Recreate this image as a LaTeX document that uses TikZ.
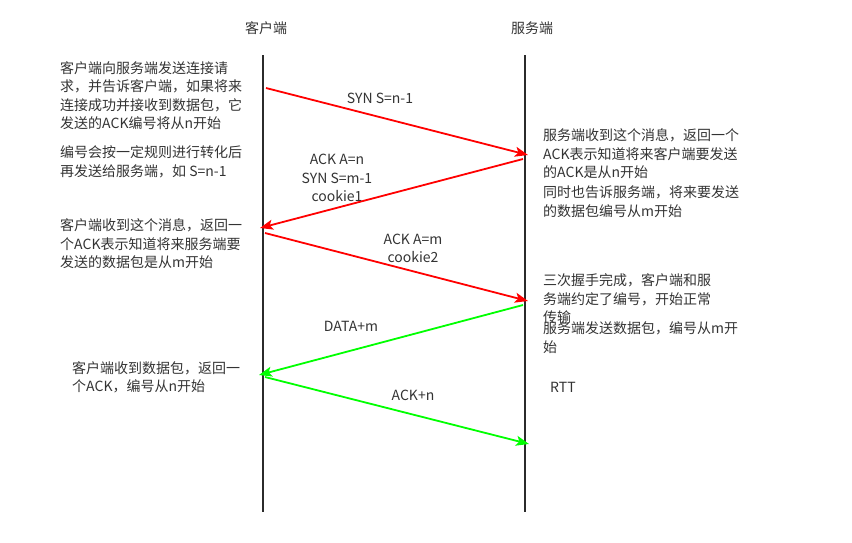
\documentclass[tikz,border=0pt]{standalone}
\usepackage{fontspec}
\setmainfont{Noto Sans CJK SC}
\usetikzlibrary{arrows.meta}
\definecolor{txt}{HTML}{333333}
\definecolor{lifeline}{HTML}{2B2B2B}
\definecolor{msgred}{HTML}{FF0000}
\definecolor{msggreen}{HTML}{00FF00}
\tikzset{
  every node/.style={font=\fontsize{14}{18.5}\selectfont, text=txt, inner sep=0pt},
  note/.style={anchor=west, align=left},
  lbl/.style={anchor=center, align=center},
  life/.style={draw=lifeline, line width=2.4pt},
  msg/.style={line width=1.8pt, -{Stealth[length=13pt,width=10pt,inset=3pt]}},
  redmsg/.style={msg, draw=msgred, fill=msgred},
  greenmsg/.style={msg, draw=msggreen, fill=msggreen}
}
\begin{document}
\begin{tikzpicture}[x=1pt,y=-1pt]
\useasboundingbox (0,0) rectangle (852,542);
% titles
\node[lbl] (tc) at (266,28) {客户端};
\node[lbl] (ts) at (532,28) {服务端};
% lifelines
\coordinate (ctop) at (263,55);
\coordinate (cbot) at (263,512);
\coordinate (stop) at (525,55);
\coordinate (sbot) at (525,512);
\draw[life] (ctop) -- (cbot);
\draw[life] (stop) -- (sbot);
% message end points
\coordinate (a1) at (266,88);
\coordinate (b1) at (528,155);
\coordinate (a2) at (523,159);
\coordinate (b2) at (260,228);
\coordinate (a3) at (265,233);
\coordinate (b3) at (528,301);
\coordinate (a4) at (523,305);
\coordinate (b4) at (259,375);
\coordinate (a5) at (265,377);
\coordinate (b5) at (529,444);
\draw[redmsg] (a1) -- (b1);
\draw[redmsg] (a2) -- (b2);
\draw[redmsg] (a3) -- (b3);
\draw[greenmsg] (a4) -- (b4);
\draw[greenmsg] (a5) -- (b5);
% message labels
\node[lbl] (m1) at (380,98) {SYN S=n-1};
\node[lbl] (m2) at (337,178) {ACK A=n\\SYN S=m-1\\cookie1};
\node[lbl] (m3) at (413,248.5) {ACK A=m\\cookie2};
\node[lbl] (m4) at (351,326) {DATA+m};
\node[lbl] (m5) at (413,395) {ACK+n};
% left notes
\node[note] (l1) at (60,95.5) {客户端向服务端发送连接请\\求，并告诉客户端，如果将来\\连接成功并接收到数据包，它\\发送的ACK编号将从n开始};
\node[note] (l2) at (60,162) {编号会按一定规则进行转化后\\再发送给服务端，如 S=n-1};
\node[note] (l3) at (60,244) {客户端收到这个消息，返回一\\个ACK表示知道将来服务端要\\发送的数据包是从m开始};
\node[note] (l4) at (72,377.5) {客户端收到数据包，返回一\\个ACK，编号从n开始};
% right notes
\node[note] (r1) at (543,154) {服务端收到这个消息，返回一个\\ACK表示知道将来客户端要发送\\的ACK是从n开始};
\node[note] (r2) at (543,201.5) {同时也告诉服务端，将来要发送\\的数据包编号从m开始};
\node[note] (r3) at (543,299) {三次握手完成，客户端和服\\务端约定了编号，开始正常\\传输};
\node[note] (r4) at (543,337.5) {服务端发送数据包，编号从m开\\始};
\node[note] (r5) at (550,387) {RTT};
\end{tikzpicture}
\end{document}
